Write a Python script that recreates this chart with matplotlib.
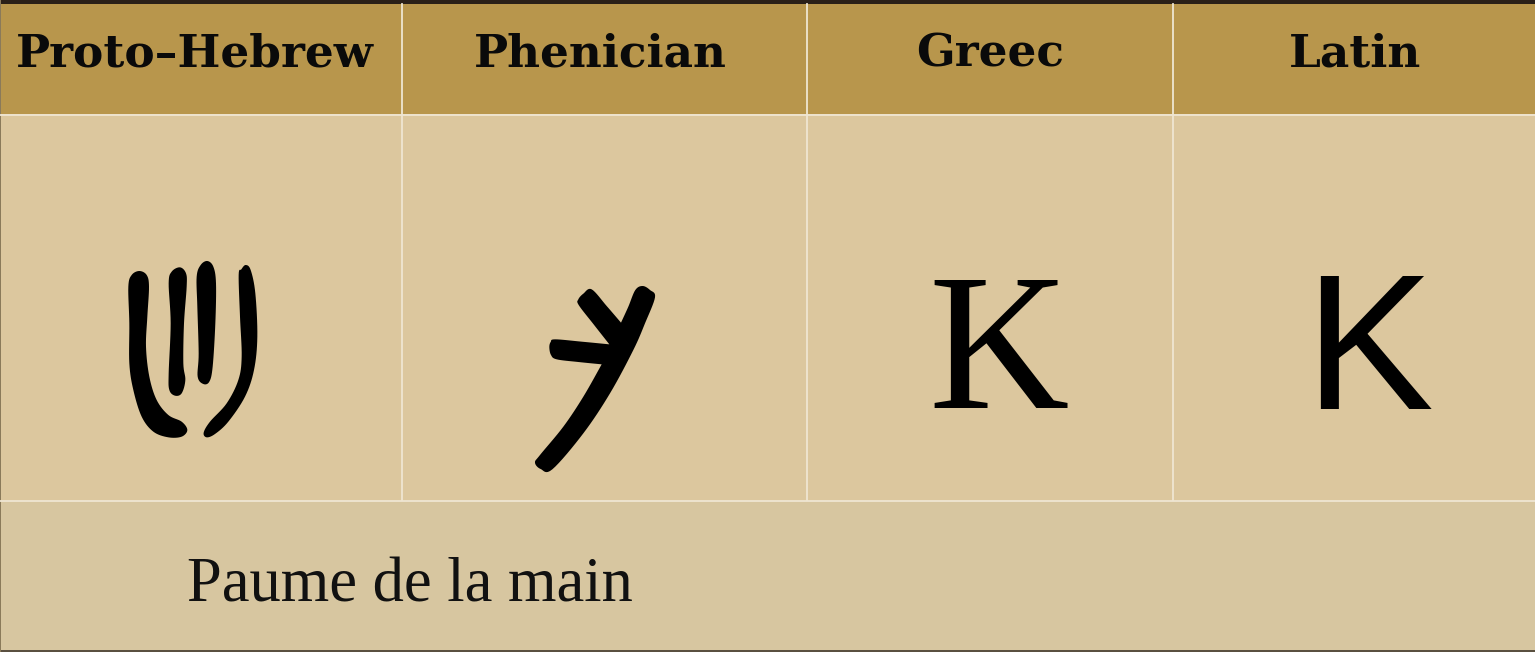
import matplotlib
matplotlib.use('Agg')
import matplotlib.pyplot as plt
import numpy as np
from matplotlib.patches import Polygon, Rectangle

# table content
headers = ['Proto–Hebrew', 'Phenician', 'Greec', 'Latin']
footer = 'Paume de la main'
greek_letter = 'K'
latin_letter = 'K'

# glyph outlines, (x, y) in 3x zoom pixels
palm_left = [(118, 93), (140, 105), (147, 140), (142, 230), (138, 320), (148, 410), (170, 480), (205, 525),
             (245, 545), (262, 570), (245, 590), (205, 592), (160, 575), (125, 530), (100, 450), (88, 370),
             (88, 250), (85, 140), (95, 105)]
palm_f2 = [(240, 82), (258, 100), (260, 140), (252, 250), (250, 370), (256, 420), (245, 460), (225, 467),
           (208, 450), (206, 400), (212, 250), (206, 130), (215, 95)]
palm_f3 = [(322, 63), (340, 80), (348, 130), (346, 250), (338, 380), (328, 425), (310, 432), (293, 410),
           (296, 340), (292, 200), (290, 110), (302, 75)]
palm_right = [(437, 75), (452, 90), (466, 160), (472, 290), (462, 390), (435, 470), (385, 545), (345, 582),
              (320, 592), (311, 578), (330, 545), (380, 490), (415, 420), (425, 350), (420, 230), (416, 105),
              (424, 88)]
# phenician kaph, split at the three sharp inner corners
kaph_runs = [
    [(245, 283), (175, 276), (110, 268), (93, 255), (88, 232), (92, 216), (105, 208), (185, 215), (268, 223)],
    [(268, 223), (220, 162), (176, 105), (175, 88), (190, 71), (215, 58), (260, 108), (303, 158)],
    [(303, 158), (325, 110), (346, 60), (368, 48), (390, 60), (405, 82), (375, 160), (340, 240), (270, 370),
     (190, 490), (97, 598), (62, 597), (45, 578), (60, 555), (130, 470), (190, 380), (245, 283)],
]


def spline(pts, closed=True, steps=8):
    # catmull-rom, passes through the traced points
    pts = np.array(pts, dtype=float)
    if closed:
        p = np.vstack([pts[-1], pts, pts[0], pts[1]])
    else:
        p = np.vstack([pts[0], pts, pts[-1]])
    out = []
    for i in range(1, len(p) - 2):
        for t in np.linspace(0, 1, steps, endpoint=False):
            out.append(0.5 * (2 * p[i] + (p[i + 1] - p[i - 1]) * t
                              + (2 * p[i - 1] - 5 * p[i] + 4 * p[i + 1] - p[i + 2]) * t ** 2
                              + (3 * p[i] - p[i - 1] - 3 * p[i + 1] + p[i + 2]) * t ** 3))
    return np.array(out)


fig = plt.figure(figsize=(15.35, 6.52), dpi=100)
ax = fig.add_axes([0, 0, 1, 1])
ax.set_xlim(0, 1535)
ax.set_ylim(652, 0)
ax.axis('off')

# row backgrounds
ax.add_patch(Rectangle((0, 0), 1535, 114, color='#B8964C', lw=0))
ax.add_patch(Rectangle((0, 114), 1535, 386, color='#DCC79E', lw=0))
ax.add_patch(Rectangle((0, 500), 1535, 152, color='#D7C6A0', lw=0))
ax.add_patch(Rectangle((0, 0), 1535, 4, color='#2A2018', lw=0))
ax.add_patch(Rectangle((0, 650), 1535, 2, color='#5A5040', lw=0))
ax.add_patch(Rectangle((0, 0), 1, 652, color='#8A7A5A', lw=0))

# grid
line_col = '#EFE6D2'
for x in [401.5, 807, 1172.5]:
    ax.plot([x, x], [4, 500], color=line_col, lw=1.3)
ax.plot([0, 1535], [114.5, 114.5], color=line_col, lw=1.3)
ax.plot([0, 1535], [500.5, 500.5], color=line_col, lw=1.3)

# header text
for cx, label in zip([195, 600, 990, 1355], headers):
    ax.text(cx, 54, label, ha='center', va='center', fontsize=32.7, color='#0A0A0A',
            family='DejaVu Serif', fontweight='bold')

# palm glyph
for outline in [palm_left, palm_f2, palm_f3, palm_right]:
    xy = spline(outline) / 3 + np.array([100, 240])
    ax.add_patch(Polygon(xy, closed=True, facecolor='black', edgecolor='none'))

# phenician glyph
kaph = np.vstack([spline(run, closed=False) for run in kaph_runs])
ax.add_patch(Polygon(kaph / 3 + np.array([520, 270]), closed=True, facecolor='black', edgecolor='none'))

# greek and latin letters
ax.text(999, 408, greek_letter, ha='center', va='baseline', fontsize=140, color='black', family='Liberation Serif')
ax.text(1368, 409, latin_letter, ha='center', va='baseline', fontsize=139, color='black', family='Liberation Sans')

ax.text(187, 601, footer, ha='left', va='baseline', fontsize=45, color='#111111', family='Liberation Serif')

fig.savefig('out.png', dpi=100)
